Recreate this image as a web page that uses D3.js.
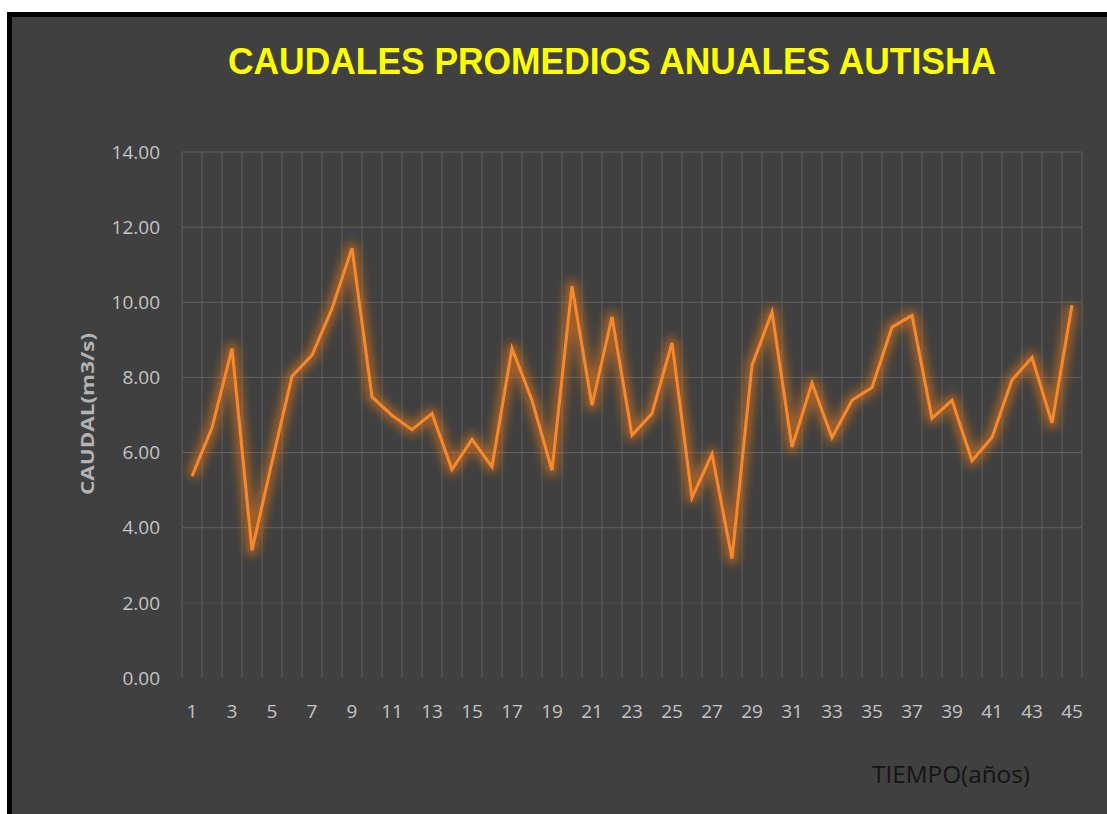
<!DOCTYPE html>
<html lang='es'>
<head>
  <meta charset='UTF-8'>
  <title>Caudales promedios anuales Autisha</title>
  <style>
  body {
    margin: 0;
    background: #fff;
  }
  .tick-y, .tick-x {
    font-family: 'Open Sans', sans-serif;
    font-size: 19px;
    fill: #c4c4c4;
  }
  .title {
    font-family: 'Liberation Sans', Arial, sans-serif;
    font-weight: bold;
    font-size: 37px;
    fill: #ffff00;
  }
  .ylabel {
    font-family: 'Open Sans', sans-serif;
    font-weight: bold;
    font-size: 17px;
    fill: #b3b3b3;
  }
  .xlabel {
    font-family: 'Open Sans', sans-serif;
    font-size: 24px;
    fill: #151515;
  }
  </style>
  <script src='https://d3js.org/d3.v7.min.js'></script>
</head>
<body>
  <script>

  var years = d3.range(1, 46);
  var caudal = [
    5.37, 6.66, 8.77, 3.40, 5.75, 8.03, 8.59, 9.83, 11.44, 7.48,
    6.99, 6.61, 7.04, 5.55, 6.35, 5.62, 8.77, 7.39, 5.53, 10.43,
    7.26, 9.61, 6.46, 7.04, 8.92, 4.80, 5.96, 3.18, 8.32, 9.74,
    6.15, 7.85, 6.40, 7.39, 7.73, 9.34, 9.65, 6.91, 7.39, 5.78,
    6.40, 7.93, 8.53, 6.79, 9.92
  ];
  var yTicks = [0, 2, 4, 6, 8, 10, 12, 14];
  var xTicks = years.filter(function (d) { return d % 2 === 1; });

  var svgWidth = 1107;
  var svgHeight = 814;
  var margin = { top: 152, right: 25, bottom: 136, left: 182 };
  var width = svgWidth - margin.left - margin.right;
  var height = svgHeight - margin.top - margin.bottom;

  var svg = d3.select('body').append('svg')
    .attr('width', svgWidth)
    .attr('height', svgHeight)
    .style('display', 'block');

  var defs = svg.append('defs');

  defs.append('filter')
    .attr('id', 'glow')
    .attr('x', '-10%').attr('y', '-20%')
    .attr('width', '120%').attr('height', '140%')
    .append('feGaussianBlur')
    .attr('stdDeviation', 5);

  // grid fades out near the bottom of the plot
  var fade = defs.append('linearGradient')
    .attr('id', 'fade')
    .attr('gradientUnits', 'userSpaceOnUse')
    .attr('x1', 0).attr('x2', 0)
    .attr('y1', margin.top).attr('y2', margin.top + height);
  fade.append('stop').attr('offset', '0.75').attr('stop-color', '#5f5f5f');
  fade.append('stop').attr('offset', '1').attr('stop-color', '#454545');

  // frame

  svg.append('rect')
    .attr('x', 7).attr('y', 12)
    .attr('width', svgWidth).attr('height', svgHeight)
    .attr('fill', '#000');

  svg.append('rect')
    .attr('x', 12).attr('y', 17)
    .attr('width', svgWidth).attr('height', svgHeight)
    .attr('fill', '#404040');

  var g = svg.append('g').attr('transform', 'translate(' + margin.left + ',' + margin.top + ')');

  var x = d3.scaleBand().domain(years).range([0, width]);
  var y = d3.scaleLinear().domain([0, 14]).range([height, 0]);
  var cx = function (d) { return x(d) + x.bandwidth() / 2; };

  // gridlines

  g.selectAll('.vgrid')
    .data(d3.range(0, years.length + 1))
    .enter()
    .append('line')
    .attr('class', 'vgrid')
    .attr('x1', function (i) { return i * x.bandwidth(); })
    .attr('x2', function (i) { return i * x.bandwidth() + 0.01; })
    .attr('y1', 0)
    .attr('y2', height)
    .attr('stroke', 'url(#fade)')
    .attr('stroke-width', 1);

  g.selectAll('.hgrid')
    .data(yTicks.filter(function (d) { return d > 0; }))
    .enter()
    .append('line')
    .attr('class', 'hgrid')
    .attr('x1', 0)
    .attr('x2', width)
    .attr('y1', function (d) { return y(d); })
    .attr('y2', function (d) { return y(d); })
    .attr('stroke', function (d) { return d === 2 ? '#4f4f4f' : '#5f5f5f'; })
    .attr('stroke-width', 1);

  // axis labels

  g.selectAll('.tick-y')
    .data(yTicks)
    .enter()
    .append('text')
    .attr('class', 'tick-y')
    .attr('x', -22)
    .attr('y', function (d) { return y(d); })
    .attr('dy', '0.35em')
    .attr('text-anchor', 'end')
    .text(function (d) { return d3.format('.2f')(d); });

  g.selectAll('.tick-x')
    .data(xTicks)
    .enter()
    .append('text')
    .attr('class', 'tick-x')
    .attr('x', cx)
    .attr('y', height + 40)
    .attr('text-anchor', 'middle')
    .text(function (d) { return d; });

  // line with glow

  var line = d3.line()
    .x(function (d, i) { return cx(years[i]); })
    .y(function (d) { return y(d); });

  g.append('path')
    .datum(caudal)
    .attr('d', line)
    .attr('fill', 'none')
    .attr('stroke', '#f07a16')
    .attr('stroke-opacity', 0.55)
    .attr('stroke-width', 12)
    .attr('stroke-linejoin', 'round')
    .attr('filter', 'url(#glow)');

  g.append('path')
    .datum(caudal)
    .attr('d', line)
    .attr('fill', 'none')
    .attr('stroke', '#f5892c')
    .attr('stroke-width', 3)
    .attr('stroke-linejoin', 'miter');

  // titles

  svg.append('text')
    .attr('class', 'title')
    .attr('x', 612)
    .attr('y', 74)
    .attr('text-anchor', 'middle')
    .attr('textLength', 768)
    .attr('lengthAdjust', 'spacingAndGlyphs')
    .text('CAUDALES PROMEDIOS ANUALES AUTISHA');

  svg.append('text')
    .attr('class', 'ylabel')
    .attr('transform', 'translate(94,414) rotate(-90)')
    .attr('text-anchor', 'middle')
    .attr('textLength', 162)
    .attr('lengthAdjust', 'spacingAndGlyphs')
    .text('CAUDAL(m3/s)');

  svg.append('text')
    .attr('class', 'xlabel')
    .attr('x', 951)
    .attr('y', 783)
    .attr('text-anchor', 'middle')
    .attr('textLength', 158)
    .attr('lengthAdjust', 'spacingAndGlyphs')
    .text('TIEMPO(años)');
  </script>
</body>
</html>
